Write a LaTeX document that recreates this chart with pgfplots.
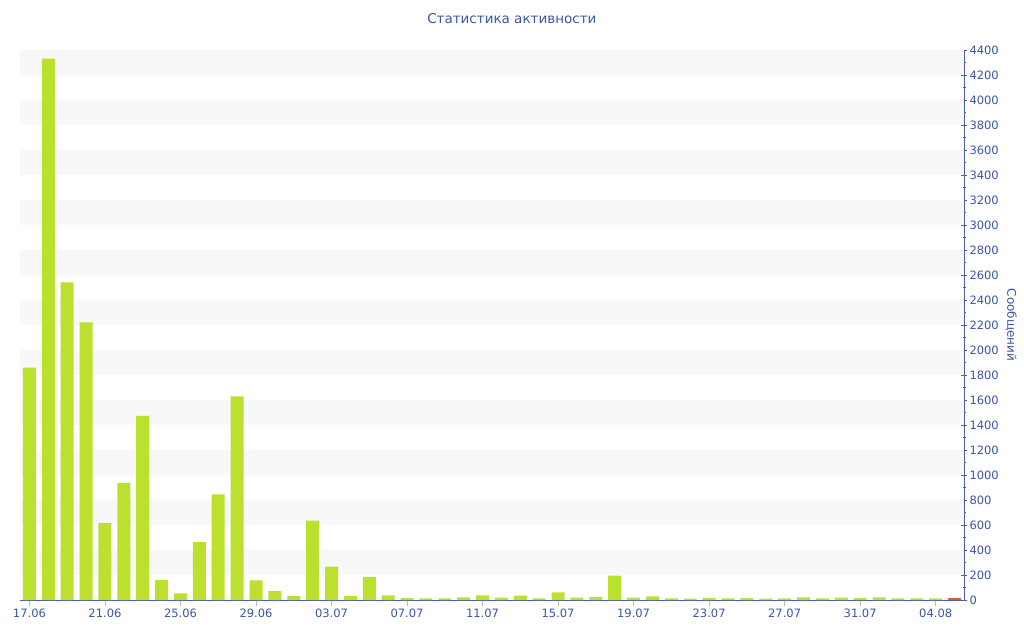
\documentclass[border=0pt]{standalone}
\usepackage{fontspec}
\setmainfont{DejaVu Sans}
\usepackage{pgfplots}
\pgfplotsset{compat=1.18}
\definecolor{txtblue}{HTML}{3D56A0}
\definecolor{axblue}{HTML}{4D5EA8}
\definecolor{bargreen}{HTML}{BBE02E}
\definecolor{barred}{HTML}{E35A2B}
\definecolor{band}{HTML}{F8F8F8}
\definecolor{mgray}{HTML}{BBBBBB}
\newcommand{\band}[2]{\fill[band] (axis cs:-0.5,#1) rectangle (axis cs:49.5,#2);}
\begin{document}
\begin{tikzpicture}
\useasboundingbox (-20pt,-40pt) rectangle (1004pt,600pt);
\begin{axis}[
  at={(0,0)}, anchor=south west,
  scale only axis, width=944pt, height=550pt,
  xmin=-0.5, xmax=49.5, ymin=0, ymax=4400,
  axis x line*=bottom, axis y line*=right,
  axis line style={axblue, line width=0.8pt, -},
  ybar, bar width=13pt, bar shift=0pt,
  xtick={0,4,...,48},
  xticklabels={17.06,21.06,25.06,29.06,03.07,07.07,11.07,15.07,19.07,23.07,27.07,31.07,04.08},
  ytick={0,200,...,4400},
  minor y tick num=1,
  /pgf/number format/assume math mode=true,
  /pgf/number format/1000 sep={},
  ticklabel style={font=\fontsize{11.5}{12}\selectfont, text=txtblue},
  xtick style={mgray, line width=0.6pt},
  xtick align=outside,
  major tick length=6pt, minor tick length=3pt,
  ytick style={axblue, line width=0.6pt},
  minor tick style={mgray},
  ytick align=center,
  yticklabel style={xshift=-1pt},
  xticklabel style={yshift=1pt},
  title={Статистика активности},
  title style={at={(axis description cs:0.521,1)}, anchor=center, yshift=25pt,
    font=\fontsize{13.5}{14}\selectfont, text=txtblue},
  ylabel={Сообщений},
  ylabel style={rotate=180, font=\fontsize{12}{13}\selectfont, text=txtblue},
  clip=false,
]
\band{200}{400}\band{600}{800}\band{1000}{1200}\band{1400}{1600}
\band{1800}{2000}\band{2200}{2400}\band{2600}{2800}\band{3000}{3200}
\band{3400}{3600}\band{3800}{4000}\band{4200}{4400}
\addplot[fill=bargreen, draw=none] coordinates {
(0,1860) (1,4330) (2,2540) (3,2220) (4,615) (5,935) (6,1474) (7,160)
(8,54) (9,464) (10,846) (11,1630) (12,158) (13,74) (14,34) (15,635)
(16,268) (17,32) (18,186) (19,37) (20,16) (21,13) (22,13) (23,21)
(24,37) (25,19) (26,35) (27,13) (28,61) (29,19) (30,24) (31,195)
(32,19) (33,29) (34,13) (35,11) (36,16) (37,13) (38,16) (39,11)
(40,13) (41,21) (42,13) (43,19) (44,16) (45,21) (46,13) (47,13) (48,13)
};
\addplot[fill=barred, draw=none] coordinates {(49,16)};
\end{axis}
\end{tikzpicture}
\end{document}
